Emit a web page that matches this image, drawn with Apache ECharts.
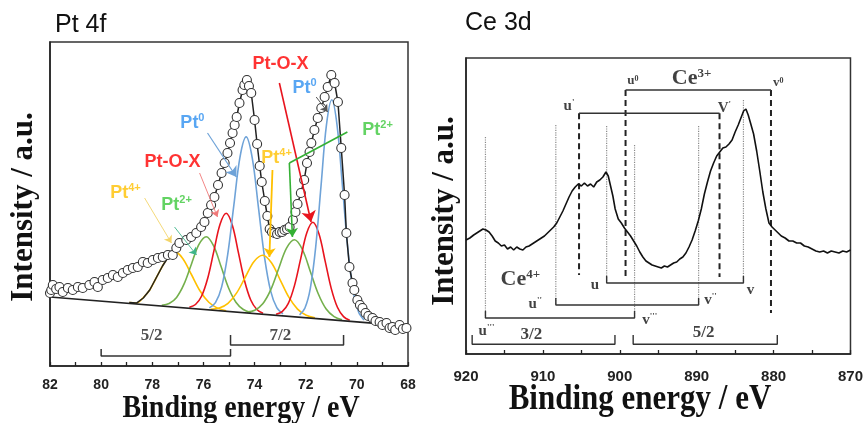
<!DOCTYPE html>
<html><head><meta charset="utf-8">
<script src="https://cdn.jsdelivr.net/npm/echarts@6/dist/echarts.min.js"></script>
<style>html,body{margin:0;padding:0;background:#fff}#c{width:866px;height:423px}</style>
</head><body><div id="c"></div>
<script>
const SANS = '"Liberation Sans", Arial, sans-serif';
const SERIF = '"Liberation Serif", "Times New Roman", serif';

// ---------- Pt 4f (left) : binding energy (eV), intensity (a.u.) ----------
const ptExperimental = [[82.0,73],[81.95,76],[81.89,81],[81.76,77],[81.63,79],[81.5,74],[81.3,78],[81.11,76],[80.91,79],[80.72,78],[80.46,81],[80.26,84],[80.13,79],[79.94,86],[79.74,88],[79.54,91],[79.35,89],[79.15,93],[78.96,96],[78.76,98],[78.57,99],[78.37,104],[78.18,103],[77.98,106],[77.78,108],[77.59,109],[77.39,111],[77.2,111],[77.06,118],[76.94,123],[76.67,126],[76.48,129],[76.28,133],[76.09,139],[75.96,144],[75.83,153],[75.7,161],[75.57,169],[75.43,181],[75.29,193],[75.17,203],[75.06,213],[74.96,223],[74.86,233],[74.78,241],[74.7,249],[74.59,263],[74.47,276],[74.4,281],[74.3,286],[74.22,280],[74.13,273],[74.0,246],[73.9,222],[73.8,200],[73.72,184],[73.6,165],[73.5,150],[73.41,137],[73.32,134],[73.22,133],[73.12,132],[73.02,134],[72.92,134],[72.83,136],[72.73,137],[72.63,139],[72.5,146],[72.4,154],[72.32,162],[72.19,173],[72.06,186],[71.95,203],[71.85,214],[71.78,223],[71.66,236],[71.53,248],[71.39,258],[71.26,269],[71.14,279],[71.0,291],[70.87,283],[70.74,264],[70.61,218],[70.48,171],[70.41,133],[70.29,99],[70.17,83],[70.1,76],[69.98,66],[69.88,61],[69.78,58],[69.66,53],[69.55,50],[69.39,48],[69.27,45],[69.11,44],[69.0,41],[68.84,43],[68.72,38],[68.61,39],[68.5,36],[68.33,41],[68.2,37],[68.06,38]];
const ptFitRise = [[78.9,63.5],[78.62,62.9],[78.35,68],[78.1,76],[77.85,88],[77.6,100],[77.4,108],[77.2,111]];
const ptBaseline = [[82.0,69.0],[69.4,42.9]];
const ptPt0_72 = [[69.72,46.0],[69.93,53.7],[70.14,74.2],[70.35,116.3],[70.56,178.7],[70.77,239.9],[70.98,266.2],[71.19,240.8],[71.40,180.4],[71.61,118.9],[71.82,77.7],[72.03,58.0],[72.24,51.2]];
const ptPt0_52 = [[72.89,52.1],[73.13,58.3],[73.37,74.9],[73.61,108.7],[73.85,158.8],[74.09,207.9],[74.33,229.1],[74.57,208.9],[74.81,160.8],[75.05,111.7],[75.29,78.9],[75.53,63.3],[75.77,58.1]];
const ptPOX_72 = [[70.28,45.8],[70.52,49.4],[70.76,58.7],[71.00,77.4],[71.24,104.9],[71.48,131.9],[71.72,143.7],[71.96,132.9],[72.20,106.9],[72.44,80.4],[72.68,62.7],[72.92,54.4],[73.16,51.8]];
const ptPOX_52 = [[73.67,52.8],[73.91,56.5],[74.15,66.0],[74.39,85.0],[74.63,113.1],[74.87,140.7],[75.11,152.7],[75.35,141.7],[75.59,115.1],[75.83,88.0],[76.07,70.0],[76.31,61.5],[76.55,58.8]];
const ptPt2_72 = [[70.58,46.2],[70.89,49.4],[71.20,57.0],[71.51,72.3],[71.82,94.6],[72.13,116.5],[72.44,126.2],[72.75,117.8],[73.06,97.2],[73.37,76.1],[73.68,62.2],[73.99,55.8],[74.30,53.9]];
const ptPt2_52 = [[74.15,53.5],[74.44,56.5],[74.73,63.8],[75.02,78.2],[75.31,99.4],[75.60,120.1],[75.89,129.3],[76.18,121.3],[76.47,101.8],[76.76,81.8],[77.05,68.6],[77.34,62.5],[77.63,60.7]];
const ptPt4_72 = [[71.64,48.2],[71.98,50.8],[72.32,56.9],[72.66,68.8],[73.00,86.2],[73.34,103.2],[73.68,110.8],[74.02,104.6],[74.36,89.0],[74.70,73.1],[75.04,62.6],[75.38,57.9],[75.72,56.7]];
const ptPt4_52 = [[75.11,55.3],[75.45,57.9],[75.79,63.7],[76.13,75.0],[76.47,91.5],[76.81,107.6],[77.15,114.9],[77.4,108],[77.6,100],[77.85,88],[78.1,76],[78.35,68.5],[78.62,63.0],[78.9,63.5]];
const ptSpinOrbit = [{name:'5/2', from:80.0, to:74.94, level:10, tip:17},{name:'7/2', from:74.94, to:70.52, level:21, tip:31}];

// ---------- Ce 3d (right) ----------
const ceSpectrum = [[920.0,114],[919.5,116],[919.0,119],[918.6,121],[918.2,123],[917.8,125],[917.4,124],[917.0,122],[916.6,118],[916.2,113],[915.8,111],[915.4,108],[915.0,109],[914.6,105],[914.2,107],[913.8,104],[913.4,107],[913.0,105],[912.6,104],[912.2,107],[911.8,108],[911.4,110],[911.0,112],[910.6,114],[910.2,116],[909.8,118],[909.4,121],[909.0,124],[908.6,127],[908.2,131],[907.8,137],[907.4,143],[907.0,150],[906.6,157],[906.2,163],[905.8,167],[905.4,170],[905.0,168],[904.6,171],[904.2,168],[903.8,170],[903.4,167],[903.0,172],[902.6,174],[902.2,177],[901.8,182],[901.5,178],[901.2,168],[900.9,158],[900.6,145],[900.2,135],[899.8,131],[899.4,126],[899.0,122],[898.6,118],[898.2,113],[897.8,108],[897.4,102],[897.0,97],[896.6,93],[896.2,91],[895.8,89],[895.4,88],[895.0,87],[894.6,86],[894.2,88],[893.8,87],[893.4,89],[893.0,91],[892.6,92],[892.2,95],[891.8,97],[891.4,101],[891.0,107],[890.6,114],[890.2,123],[889.8,133],[889.4,145],[889.0,160],[888.6,172],[888.2,183],[887.8,191],[887.4,198],[887.0,202],[886.6,206],[886.2,207],[885.8,210],[885.4,214],[885.0,222],[884.6,229],[884.2,237],[883.9,243],[883.6,245],[883.3,239],[883.0,231],[882.6,220],[882.2,203],[881.8,183],[881.4,162],[881.0,145],[880.6,131],[880.2,127],[879.8,124],[879.4,121],[879.0,118],[878.5,116],[878.0,113],[877.5,113],[877.0,111],[876.5,111],[876.0,108],[875.5,107],[875.0,105],[874.5,103],[874.0,102],[873.5,103],[873.0,101],[872.5,103],[872.0,102],[871.5,101],[871.0,103],[870.5,102],[870.0,104]];
const ceDotted = [[917.47,217,36],[908.32,229,49],[901.71,228,71],[898.08,209,36],[889.75,228,49],[883.92,254,71]];
const ceDashed = [[905.3,240.7,79],[887.03,240.7,77],[899.25,264,76],[880.34,264,41]];
const ce4Pairs = [[917.47,898.08,36],[908.32,889.75,49],[901.71,883.92,71]];
const ce3Pairs = [[899.25,880.34,264],[905.3,887.03,240.7]];
const ceSpinOrbit = [{name:'3/2', from:919.2, to:900.63, level:9.7, tip:19},{name:'5/2', from:898.26, to:879.52, level:9.7, tip:19}];

const C = {blue:'#6fa3d8', red:'#e8141e', green:'#74b04c', yellow:'#ffc000',
  lblue:'#2e90f0', lred:'#ff0000', lgreen:'#3cc83c', lyellow:'#ffc000'};

const chart = echarts.init(document.getElementById('c'), null, {renderer:'canvas'});
const series = [];
function comp(data, color){
  series.push({type:'line', xAxisIndex:0, yAxisIndex:0, data, smooth:0.35, symbol:'none',
    lineStyle:{color, width:1.6}, z:2, silent:true});
}
comp(ptPt4_52, C.yellow); comp(ptPt2_52, C.green); comp(ptPOX_52, C.red); comp(ptPt0_52, C.blue);
comp(ptPt4_72, C.yellow); comp(ptPt2_72, C.green); comp(ptPOX_72, C.red); comp(ptPt0_72, C.blue);
series.push({type:'line', xAxisIndex:0, yAxisIndex:0, data:ptBaseline, symbol:'none', lineStyle:{color:'#222', width:1.6}, z:3, silent:true});
series.push({type:'line', xAxisIndex:0, yAxisIndex:0, data:ptFitRise.concat(ptExperimental.filter(p=>p[0]<77.2)), symbol:'none', lineStyle:{color:'#222', width:1.5}, z:3, silent:true});
series.push({type:'scatter', xAxisIndex:0, yAxisIndex:0, data:ptExperimental, symbol:'circle', symbolSize:9,
  itemStyle:{color:'#fff', borderColor:'#333', borderWidth:1.1, opacity:1}, z:4, silent:true});

function bracket(axisIdx, b, width){
  series.push({type:'line', xAxisIndex:axisIdx, yAxisIndex:axisIdx, symbol:'none', silent:true, z:5,
    data:[[b.from,b.tip],[b.from,b.level],[b.to,b.level],[b.to,b.tip]], lineStyle:{color:'#333', width:width||1.5}});
}
ptSpinOrbit.forEach(b=>bracket(0,b));

function arrow(axisIdx, pts, color, width, size){
  series.push({type:'lines', coordinateSystem:'cartesian2d', xAxisIndex:axisIdx, yAxisIndex:axisIdx, silent:true, z:6,
    symbol:['none','arrow'], symbolSize:size,
    lineStyle:{color, width, opacity:1, curveness:0},
    data:[{coords:pts}]});
}
arrow(0, [[73.03,283],[71.79,144]], C.red, 1.6, 11);
arrow(0, [[71.59,269],[71.14,254]], '#555', 1, 7);
arrow(0, [[75.84,233],[74.71,189]], C.blue, 1.2, 10);
arrow(0, [[76.15,193],[75.45,149]], '#f07878', 0.9, 7);
arrow(0, [[73.30,196],[73.42,109]], C.yellow, 1.8, 9);
series.push({type:'line', xAxisIndex:0, yAxisIndex:0, symbol:'none', silent:true, z:6, data:[[70.37,234],[72.64,203]], lineStyle:{color:'#34b034', width:1.6}});
arrow(0, [[72.64,203],[72.52,129]], '#34b034', 1.6, 9);
arrow(0, [[78.30,168],[77.25,123]], '#f3d56a', 0.9, 7);
arrow(0, [[77.13,139],[76.27,111]], '#3fb58a', 0.9, 7);

// text labels (anchored in data space)
function sup(col){return {color:col, fontSize:11, fontWeight:'bold', fontFamily:SANS, verticalAlign:'top', lineHeight:12};}
function main(col){return {color:col, fontSize:18, fontWeight:'bold', fontFamily:SANS, lineHeight:22};}
const ptRich = {r:main(C.lred), b:main(C.lblue), bs:sup(C.lblue), y:main(C.lyellow), ys:sup(C.lyellow), g:main(C.lgreen), gs:sup(C.lgreen),
  n:{color:'#222', fontSize:17, fontWeight:'bold', fontFamily:SERIF}};
const ptLabels = [
  ['{r|Pt-O-X}',[72.99,302]], ['{b|Pt}{bs|0}',[72.05,278]], ['{b|Pt}{bs|0}',[76.43,243]], ['{r|Pt-O-X}',[77.21,204]],
  ['{y|Pt}{ys|4+}',[73.14,208]], ['{g|Pt}{gs|2+}',[69.19,236]], ['{y|Pt}{ys|4+}',[79.05,173]], ['{g|Pt}{gs|2+}',[77.05,161]],
  ['{n|5/2}',[78.03,30]], ['{n|7/2}',[72.99,30]]];
function labelSeries(axisIdx, list, rich){
  series.push({type:'scatter', xAxisIndex:axisIdx, yAxisIndex:axisIdx, symbolSize:0, silent:true, z:10,
    data:list.map(l=>({value:l[1], label:{formatter:l[0]}})),
    label:{show:true, position:'inside', align:'center', verticalAlign:'middle', rich}});
}
labelSeries(0, ptLabels, ptRich);

// right panel
ceDotted.forEach(d=>series.push({type:'line', xAxisIndex:1, yAxisIndex:1, symbol:'none', silent:true, z:3,
  data:[[d[0],d[1]],[d[0],d[2]]], lineStyle:{color:'#8a8a8a', width:1.2, type:[1.2,1.2]}}));
ceDashed.forEach(d=>series.push({type:'line', xAxisIndex:1, yAxisIndex:1, symbol:'none', silent:true, z:3,
  data:[[d[0],d[1]],[d[0],d[2]]], lineStyle:{color:'#222', width:2, type:[6,4]}}));
ce4Pairs.forEach(p=>series.push({type:'line', xAxisIndex:1, yAxisIndex:1, symbol:'none', silent:true, z:3,
  data:[[p[0],p[2]+7],[p[0],p[2]],[p[1],p[2]],[p[1],p[2]+7]], lineStyle:{color:'#333', width:1.4}}));
ce3Pairs.forEach(p=>series.push({type:'line', xAxisIndex:1, yAxisIndex:1, symbol:'none', silent:true, z:3,
  data:[[p[0],p[2]],[p[1],p[2]]], lineStyle:{color:'#333', width:1.4}}));
ceSpinOrbit.forEach(b=>bracket(1,b,1.4));
series.push({type:'line', xAxisIndex:1, yAxisIndex:1, data:ceSpectrum, symbol:'none', lineStyle:{color:'#111', width:1.6}, z:4, silent:true});

function sm(fs){return {color:'#111', fontSize:fs, fontWeight:'bold', fontFamily:SERIF};}
function ss(fs){return {color:'#111', fontSize:fs, fontWeight:'bold', fontFamily:SERIF, verticalAlign:'top', lineHeight:fs+1};}
const ceRich = {m:sm(15), s:ss(9), k:sm(13), ks:ss(8), c:sm(22), cs:ss(13), n:sm(17)};
const ceLabels = [
  ['{k|u}{ks|0}',[898.3,273]], ['{c|Ce}{cs|3+}',[890.67,276]], ['{k|v}{ks|0}',[879.4,271]],
  ["{m|u}{s|'}",[906.6,248]], ["{m|V}{s|'}",[886.4,246]], ['{c|Ce}{cs|4+}',[912.94,75]],
  ['{m|u}',[903.23,69]], ['{m|v}',[883.0,64]], ["{m|u}{s|''}",[911.0,50]], ["{m|v}{s|''}",[888.2,54]],
  ["{m|v}{s|'''}",[896.1,34]], ["{m|u}{s|'''}",[917.34,23]], ['{n|3/2}',[911.5,19]], ['{n|5/2}',[889.1,21]]];
labelSeries(1, ceLabels, ceRich);

function xAx(gi, min, max, interval, fs, margin){
  return {gridIndex:gi, type:'value', min, max, interval, inverse:true,
    axisLine:{show:true, onZero:false, lineStyle:{color:'#222', width:1.5}},
    axisTick:{show:true, inside:true, length:4, lineStyle:{color:'#222', width:1.3}},
    minorTick:{show:true, splitNumber:2, length:4, lineStyle:{color:'#222', width:1.3}},
    axisLabel:{fontSize:fs, fontWeight:'bold', color:'#222', fontFamily:SANS, margin},
    splitLine:{show:false}, minorSplitLine:{show:false}};
}
function yAx(gi, max){
  return {gridIndex:gi, type:'value', min:0, max, axisLine:{show:true, lineStyle:{color:'#222', width:1.5}},
    axisTick:{show:false}, axisLabel:{show:false}, splitLine:{show:false}};
}
function txt(x, y, text, font, opts){
  return Object.assign({type:'text', x, y, silent:true, z:100,
    style:Object.assign({text, fill:'#111', align:'center', verticalAlign:'middle'}, font)}, opts||{});
}
chart.setOption({
  animation:false, backgroundColor:'#fff',
  grid:[{left:50, top:42, width:358, height:324, show:true, borderColor:'#333', borderWidth:1.5},
        {left:466, top:58, width:387, height:296, show:true, borderColor:'#333', borderWidth:1.5}],
  xAxis:[xAx(0,68,82,2,14,12), xAx(1,870,920,10,15,15)],
  yAxis:[yAx(0,324), yAx(1,296)],
  series,
  graphic:[
    txt(55, 25, 'Pt 4f', {fontSize:25, fontFamily:SANS, align:'left'}),
    txt(465, 23, 'Ce 3d', {fontSize:25, fontFamily:SANS, align:'left'}),
    txt(241, 409, 'Binding energy / eV', {fontSize:28, fontWeight:'bold', fontFamily:SERIF}, {scaleY:1.15}),
    txt(640, 400, 'Binding energy / eV', {fontSize:31, fontWeight:'bold', fontFamily:SERIF}, {scaleY:1.15}),
    txt(24, 207, 'Intensity / a.u.', {fontSize:31, fontWeight:'bold', fontFamily:SERIF}, {rotation:Math.PI/2}),
    txt(445, 211, 'Intensity / a.u.', {fontSize:31, fontWeight:'bold', fontFamily:SERIF}, {rotation:Math.PI/2})
  ]
});
</script></body></html>
